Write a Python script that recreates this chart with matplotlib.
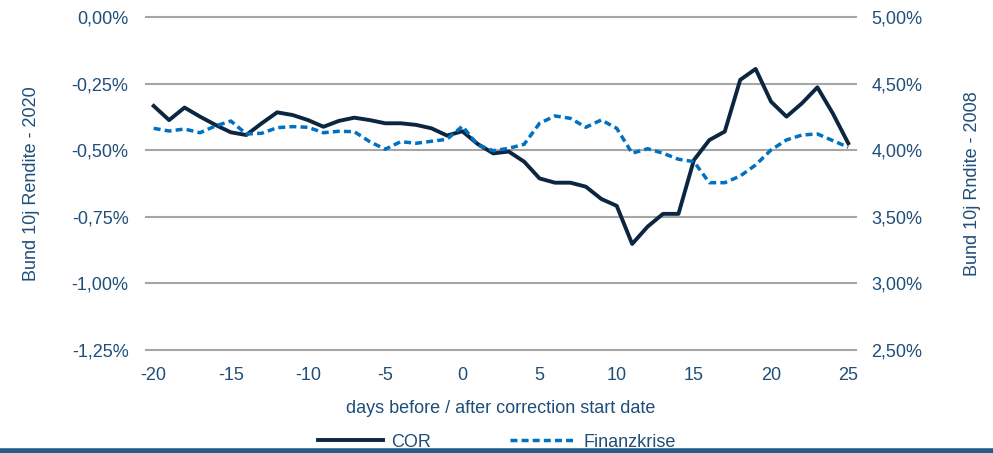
import numpy as np
import matplotlib
matplotlib.use("Agg")
import matplotlib.pyplot as plt
from matplotlib.ticker import FuncFormatter

plt.rcParams['font.family'] = ['Liberation Sans', 'DejaVu Sans']
plt.rcParams['axes.unicode_minus'] = False

days = list(range(-20, 26))

# Bund 10j Rendite 2020 (left axis, %)
cor = [-0.334, -0.387, -0.340, -0.374, -0.405, -0.433, -0.443, -0.399, -0.358, -0.368,
       -0.387, -0.412, -0.390, -0.378, -0.387, -0.399, -0.399, -0.405, -0.418, -0.445,
       -0.429, -0.477, -0.512, -0.505, -0.543, -0.606, -0.622, -0.622, -0.637, -0.683,
       -0.709, -0.852, -0.787, -0.739, -0.739, -0.537, -0.462, -0.430, -0.236, -0.195,
       -0.318, -0.374, -0.324, -0.264, -0.362, -0.474]

# Bund 10j Rendite 2008 (right axis, %)
finanz = [4.164, 4.144, 4.159, 4.131, 4.182, 4.219, 4.122, 4.127, 4.169, 4.177,
          4.172, 4.131, 4.142, 4.139, 4.064, 4.007, 4.064, 4.052, 4.067, 4.082,
          4.180, 4.039, 3.996, 4.014, 4.044, 4.202, 4.257, 4.239, 4.172, 4.227,
          4.164, 3.977, 4.011, 3.977, 3.932, 3.914, 3.756, 3.756, 3.806, 3.889,
          4.002, 4.077, 4.114, 4.122, 4.072, 4.022]

left_ticks = [0.0, -0.25, -0.5, -0.75, -1.0, -1.25]
right_ticks = [5.0, 4.5, 4.0, 3.5, 3.0, 2.5]
x_ticks = [-20, -15, -10, -5, 0, 5, 10, 15, 20, 25]

txt = '#1F4E79'
grid_c = '#A6A6A6'
fs = 13

def pct(v, pos):
    return ('%.2f%%' % v).replace('.', ',')

fig = plt.figure(figsize=(9.93, 4.53), dpi=100)
ax = fig.add_axes([0.147, 0.2274, 0.715, 0.7351])
ax2 = ax.twinx()

ax.set_xlim(-20.5, 25.5)
ax.set_ylim(-1.25, 0.0)
ax2.set_ylim(2.5, 5.0)

ax.set_yticks(left_ticks)
ax2.set_yticks(right_ticks)
ax.set_xticks(x_ticks)
ax.set_xticklabels([str(d) for d in x_ticks])
ax.yaxis.set_major_formatter(FuncFormatter(pct))
ax2.yaxis.set_major_formatter(FuncFormatter(pct))

for y in left_ticks:
    ax.axhline(y, color=grid_c, lw=1.5, zorder=0, clip_on=False)

for a in (ax, ax2):
    for s in a.spines.values():
        s.set_visible(False)
    a.tick_params(length=0, labelsize=fs, labelcolor=txt)
ax.tick_params(axis='y', pad=12.5)
ax2.tick_params(axis='y', pad=11)
ax.tick_params(axis='x', pad=12)

l1, = ax.plot(days, cor, color='#0B2641', lw=2.8, label='COR', zorder=3)
l2, = ax2.plot(days, finanz, color='#0070C0', lw=2.5, ls=(0, (2.0, 1.2)), label='Finanzkrise', zorder=2)

ax.set_xlabel('days before / after correction start date', color=txt, fontsize=fs, labelpad=12)
ax.set_ylabel('Bund 10j Rendite - 2020', color=txt, fontsize=fs, labelpad=23)
ax2.set_ylabel('Bund 10j Rndite - 2008', color=txt, fontsize=fs, labelpad=30)

leg = fig.legend(handles=[l1, l2], loc='center', bbox_to_anchor=(0.5, 0.024), ncol=2,
                 frameon=False, fontsize=fs, handlelength=3.6, handletextpad=0.45,
                 columnspacing=4.4)
for t in leg.get_texts():
    t.set_color(txt)

fig.add_artist(plt.Line2D([0, 1], [0.004, 0.004], color='#1F5C8B', lw=4, transform=fig.transFigure))

fig.savefig('out.png', dpi=100)
